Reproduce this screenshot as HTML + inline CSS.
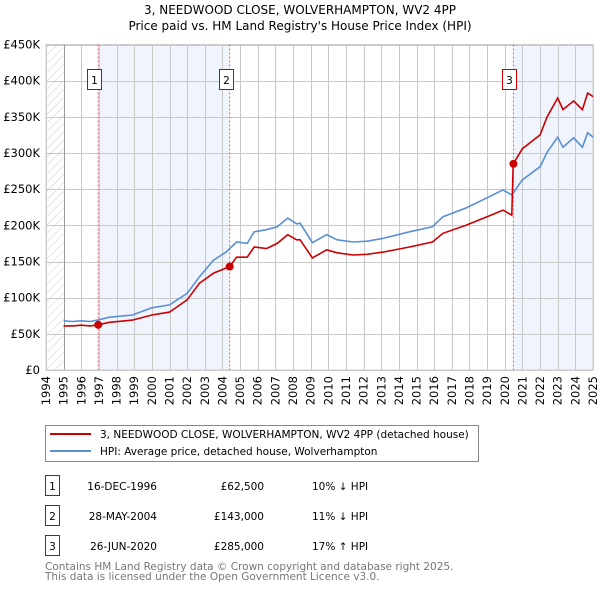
<!DOCTYPE html>
<html><head><meta charset="utf-8"><style>
body{margin:0;background:#fff;width:600px;height:590px;overflow:hidden;font-family:"DejaVu Sans","Liberation Sans",sans-serif;}
svg text{font-family:"DejaVu Sans","Liberation Sans",sans-serif;}
</style></head><body>
<svg id="chart" width="600" height="590" xmlns="http://www.w3.org/2000/svg">
<defs><pattern id="hatch" width="6" height="6" patternUnits="userSpaceOnUse" patternTransform="rotate(45)"><line x1="0" y1="0" x2="0" y2="6" stroke="#ccc" stroke-width="1"/></pattern></defs>
<text x="300" y="14" text-anchor="middle" font-size="12">3, NEEDWOOD CLOSE, WOLVERHAMPTON, WV2 4PP</text>
<text x="300" y="30" text-anchor="middle" font-size="12">Price paid vs. HM Land Registry's House Price Index (HPI)</text>
<g id="plot"></g>
<g>
<rect x="45.5" y="425.5" width="433" height="36" fill="#fff" stroke="#888"/>
<line x1="50" y1="434" x2="91" y2="434" stroke="#cc0000" stroke-width="2"/>
<text x="100" y="438" font-size="10.5">3, NEEDWOOD CLOSE, WOLVERHAMPTON, WV2 4PP (detached house)</text>
<line x1="50" y1="451" x2="91" y2="451" stroke="#5b8fd4" stroke-width="2"/>
<text x="100" y="455" font-size="10.5">HPI: Average price, detached house, Wolverhampton</text>
</g>
<g font-size="10.5">
<rect x="45.5" y="475.5" width="14" height="20" fill="#fff" stroke="#cc0000"/><text x="52.5" y="490" text-anchor="middle">1</text>
<text x="157" y="490" text-anchor="end">16-DEC-1996</text><text x="264" y="490" text-anchor="end">£62,500</text><text x="312" y="490">10% ↓ HPI</text>
<rect x="45.5" y="505.5" width="14" height="20" fill="#fff" stroke="#cc0000"/><text x="52.5" y="520" text-anchor="middle">2</text>
<text x="157" y="520" text-anchor="end">28-MAY-2004</text><text x="264" y="520" text-anchor="end">£143,000</text><text x="312" y="520">11% ↓ HPI</text>
<rect x="45.5" y="535.5" width="14" height="20" fill="#fff" stroke="#cc0000"/><text x="52.5" y="550" text-anchor="middle">3</text>
<text x="157" y="550" text-anchor="end">26-JUN-2020</text><text x="264" y="550" text-anchor="end">£285,000</text><text x="312" y="550">17% ↑ HPI</text>
</g>
<text x="45" y="570" font-size="10.5" fill="#777">Contains HM Land Registry data © Crown copyright and database right 2025.</text>
<text x="45" y="580" font-size="10.5" fill="#777">This data is licensed under the Open Government Licence v3.0.</text>
</svg>
<script>
const hpiYears=[1995,1995.5,1996,1996.5,1996.9,1997.6,1998.9,2000,2001,2002,2002.7,2003.5,2004.2,2004.8,2005.4,2005.8,2006.5,2007.1,2007.7,2008.2,2008.4,2009.1,2009.9,2010.5,2011.4,2012.2,2013.1,2014.6,2015.9,2016.5,2017.8,2019,2019.9,2020.4,2021,2022,2022.4,2023,2023.3,2023.9,2024.4,2024.7,2025];
const hpiValues=[68,67,68,67,69,73,76,86,90,106,129,152,163,177,175,191,194,198,210,202,203,176,187,180,177,178,182,191,198,212,224,238,249,242,263,281,301,322,308,321,308,328,322];
const saleYears=[1995,1995.5,1996,1996.5,1996.96,1997.6,1998.9,2000,2001,2002,2002.7,2003.5,2004.41,2004.8,2005.4,2005.8,2006.5,2007.1,2007.7,2008.2,2008.4,2009.1,2009.9,2010.5,2011.4,2012.2,2013.1,2014.6,2015.9,2016.5,2017.8,2019,2019.9,2020.4,2020.48,2021,2022,2022.4,2023,2023.3,2023.9,2024.4,2024.7,2025];
const saleValues=[61,61,62,61,62.5,66,69,76,80,97,120,134,143,156,156,170,168,175,187,180,180,155,166,162,159,160,163,170,177,189,200,212,221,214,285,306,325,350,376,360,372,360,383,378];
const sales=[{n:'1',year:1996.96,v:62.5},{n:'2',year:2004.41,v:143},{n:'3',year:2020.49,v:285}];
const yTicks=[0,50,100,150,200,250,300,350,400,450];
const xTicks=[1994,1995,1996,1997,1998,1999,2000,2001,2002,2003,2004,2005,2006,2007,2008,2009,2010,2011,2012,2013,2014,2015,2016,2017,2018,2019,2020,2021,2022,2023,2024,2025];
const X0=46,X1=593,Y0=370,Y1=44.5;
const xs=y=>X0+(y-1994)/(2025-1994)*(X1-X0);
const ys=v=>Y0-v/450*(Y0-Y1);
const NS='http://www.w3.org/2000/svg';
const g=document.getElementById('plot');
function mk(t,a){const e=document.createElementNS(NS,t);for(const k in a)e.setAttribute(k,a[k]);g.appendChild(e);return e;}
let e;
e=mk('rect',{x:xs(1994),y:Y1,width:xs(1995)-xs(1994),height:Y0-Y1,fill:'url(#hatch)'});


e=mk('rect',{x:xs(sales[0].year),y:Y1,width:xs(sales[1].year)-xs(sales[0].year),height:Y0-Y1,fill:'#f0f4fd'});


e=mk('rect',{x:xs(sales[2].year),y:Y1,width:X1-xs(sales[2].year),height:Y0-Y1,fill:'#f0f4fd'});


const px=v=>Math.round(v)+0.5;
yTicks.forEach(t=>{
 e=mk('line',{x1:X0,x2:X1,y1:px(ys(t)),y2:px(ys(t)),stroke:'#c8c8c8','stroke-width':1});
 
 
 e=mk('text',{x:40,y:ys(t)+4,'text-anchor':'end','font-size':11.5});e.textContent=t===0?'£0':'£'+t+'K';
 
 
});
xTicks.forEach(t=>{
 e=mk('line',{x1:px(xs(t)),x2:px(xs(t)),y1:Y1,y2:Y0,stroke:'#c8c8c8','stroke-width':1});
 
 
 e=mk('text',{x:0,y:0,'text-anchor':'end','font-size':11.5,transform:`translate(${xs(t)+4},${Y0+6}) rotate(-90)`});e.textContent=t;
 
 
});
e=mk('line',{x1:px(xs(1995)),x2:px(xs(1995)),y1:Y1,y2:Y0,stroke:'#999'});


e=mk('rect',{x:X0,y:Y1,width:X1-X0,height:Y0-Y1,fill:'none',stroke:'#ccc'});


sales.forEach(s=>{
 e=mk('line',{x1:xs(s.year),x2:xs(s.year),y1:Y1,y2:Y0,stroke:'#e06060','stroke-dasharray':'2,2','stroke-width':1});
 
 
 e=mk('rect',{x:Math.round(xs(s.year))-10.5,y:69.5,width:14,height:20,fill:'#fff',stroke:'#cc0000'});
 
 
 e=mk('text',{x:Math.round(xs(s.year))-3.5,y:84,'text-anchor':'middle','font-size':10.5});e.textContent=s.n;
 
 
});
const path=(xa,va)=>xa.map((x,i)=>(i?'L':'M')+xs(x).toFixed(1)+','+ys(va[i]).toFixed(1)).join('');
e=mk('path',{d:path(hpiYears,hpiValues),fill:'none',stroke:'#5b8fd4','stroke-width':1.6});


e=mk('path',{d:path(saleYears,saleValues),fill:'none',stroke:'#cc0000','stroke-width':1.6});


sales.forEach(s=>{
 e=mk('circle',{cx:xs(s.year),cy:ys(s.v),r:4,fill:'#cc0000'});
 
 
});
</script>
</body></html>
